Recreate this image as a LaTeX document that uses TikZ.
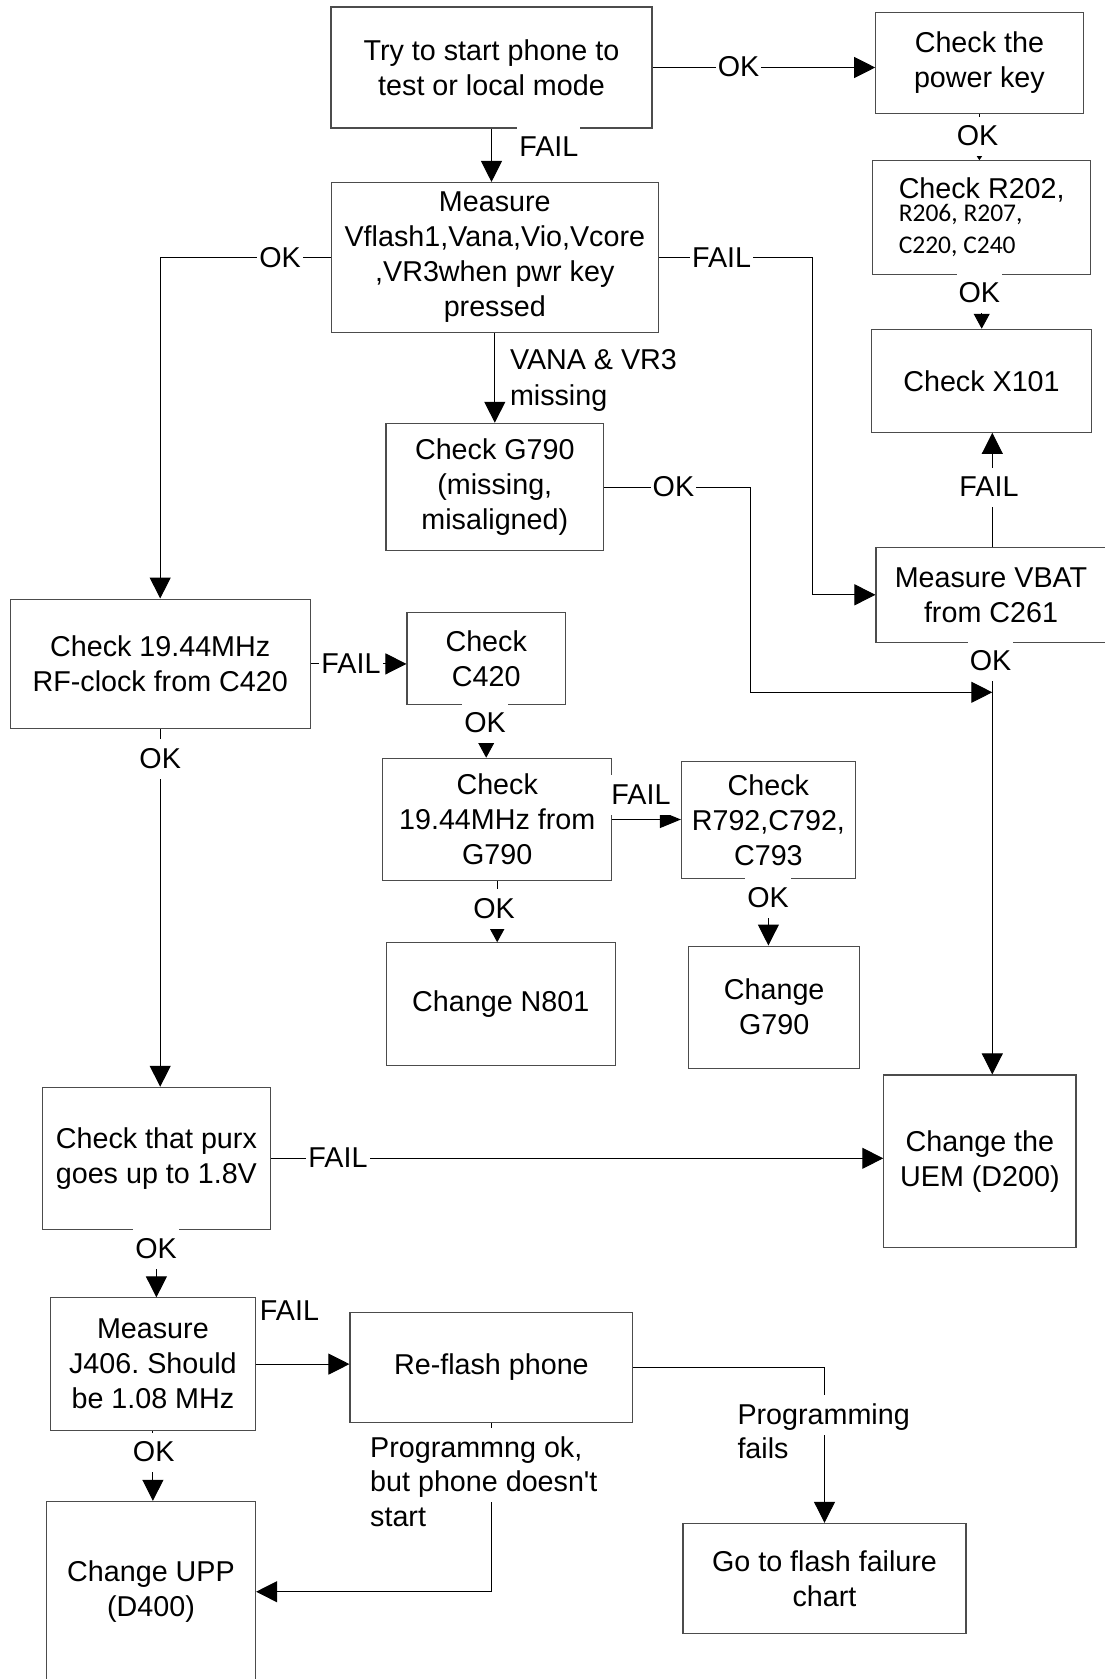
\documentclass[tikz,border=0pt]{standalone}
\usepackage{fontspec}
\newfontfamily\arialf{Liberation Sans}
\newfontfamily\carlitof{Carlito}
\usetikzlibrary{arrows.meta}
\frenchspacing
\newcommand\bigfnt{\arialf\fontsize{28.7}{35}\selectfont\frenchspacing}
\newcommand\smlfnt{\carlitof\fontsize{25.5}{32}\selectfont}
\tikzset{
  box/.style={draw=black!70, line width=1.1pt, inner sep=0pt, align=center, font=\bigfnt},
  conn/.style={draw=black, line width=1pt},
  big/.style={conn, -{Triangle[length=21pt,width=21pt]}},
  midarr/.style={conn, -{Triangle[length=15pt,width=16pt]}},
  smlarr/.style={conn, -{Triangle[length=13pt,width=14pt]}},
  narrarr/.style={conn, -{Triangle[length=21pt,width=17pt]}},
  tinyarr/.style={conn, -{Triangle[length=4pt,width=5pt]}},
  lbl/.style={fill=white, inner xsep=2pt, inner ysep=2pt, text height=27pt, text depth=8.5pt, font=\bigfnt},
  lblt/.style={inner xsep=2pt, inner ysep=2pt, text height=27pt, text depth=8.5pt, font=\bigfnt}
}
\begin{document}
\begin{tikzpicture}[x=1pt,y=-1pt]
\useasboundingbox[fill=white] (0,0) rectangle (1104,1679);
% boxes
\node[box, minimum width=321pt, minimum height=121pt] (A) at (491.5,67.5) {Try to start phone to\\test or local mode};
\node[box, minimum width=207.3pt, minimum height=100.3pt] (B) at (979.4,62.9) {Check the\\power key};
\node[box, align=left, minimum width=218pt, minimum height=113.3pt] (C) at (981.7,217.4) {Check R202,\\[-12pt]{\smlfnt R206, R207,}\\[-3pt]{\smlfnt C220, C240}};
\node[box, minimum width=220.4pt, minimum height=103pt] (D) at (981.5,380.8) {Check X101};
\node[box, minimum width=327.5pt, minimum height=150pt] (E) at (494.8,257.5) {Measure\\Vflash1,Vana,Vio,Vcore\\,VR3when pwr key\\pressed};
\node[box, minimum width=217.6pt, minimum height=127.4pt] (F) at (494.8,487) {Check G790\\(missing,\\misaligned)};
\node[box, minimum width=230pt, minimum height=95pt] (G) at (991,594.8) {Measure VBAT\\from C261};
\node[box, minimum width=299.7pt, minimum height=129.7pt] (H) at (160.2,663.9) {Check 19.44MHz\\RF-clock from C420};
\node[box, minimum width=158.4pt, minimum height=92pt] (I) at (486.2,658.3) {Check\\C420};
\node[box, minimum width=229pt, minimum height=122.4pt] (J) at (497.2,819.5) {Check\\19.44MHz from\\G790};
\node[box, minimum width=173.9pt, minimum height=116.6pt] (K) at (768.4,820) {Check\\R792,C792,\\C793};
\node[box, minimum width=229.5pt, minimum height=122.3pt] (L) at (500.8,1003.9) {Change N801};
\node[box, minimum width=171.1pt, minimum height=122.3pt] (M) at (774.2,1007.2) {Change\\G790};
\node[box, minimum width=228.1pt, minimum height=142pt] (N) at (156.4,1158.3) {Check that purx\\goes up to 1.8V};
\node[box, minimum width=192.2pt, minimum height=172.5pt] (O) at (979.9,1161.2) {Change the\\UEM (D200)};
\node[box, minimum width=204.3pt, minimum height=132.4pt] (P) at (152.9,1364.1) {Measure\\J406. Should\\be 1.08 MHz};
\node[box, minimum width=282.8pt, minimum height=110.3pt] (Q) at (491.4,1367.4) {Re-flash phone};
\node[box, minimum width=283pt, minimum height=110.3pt] (R) at (824.5,1578.5) {Go to flash failure\\chart};
\node[box, minimum width=209.1pt, minimum height=180.7pt] (S) at (151,1591.7) {Change UPP\\(D400)};
% connectors
\coordinate (fj) at (992.3,692.3);
\draw[big] (A.east) -- (A.east -| B.west);
\draw[big] (A.south) -- (A.south |- E.north);
\draw[tinyarr] (B.south) -- (B.south |- C.north);
\draw[midarr] (C.south) -- (C.south |- D.north);
\draw[big] (E.west) -| (H.north);
\draw[big] (E.east) -- ++(153.2,0) |- (G.west);
\draw[big] (E.south) -- (E.south |- F.north);
\draw[big] (F.east) -- ++(146.7,0) |- (fj);
\draw[big] ([xshift=1.3pt]G.north) -- ([xshift=1.3pt]G.north |- D.south);
\draw[big] ([xshift=1.3pt]G.south) -- ([xshift=1.3pt]G.south |- O.north);
\draw[big] (H.east) -- (H.east -| I.west);
\draw[big] (H.south) -- (H.south |- N.north);
\draw[midarr] (I.south) -- (I.south |- J.north);
\draw[narrarr] (J.east) -- (J.east -| K.west);
\draw[smlarr] (J.south) -- (J.south |- L.north);
\draw[big] (K.south) -- (K.south |- M.north);
\draw[big] (N.east) -- (N.east -| O.west);
\draw[big] (N.south) -- (N.south |- P.north);
\draw[big] (P.east) -- (P.east -| Q.west);
\draw[big] (P.south) -- (P.south |- S.north);
\draw[big] (Q.east) -| (R.north);
\draw[big] (Q.south) |- (S.east);
% labels
\node[lbl] (lAB) at (738.5,67) {OK};
\node[lbl] (lAE) at (548.8,147) {FAIL};
\node[lbl] (lBC) at (977.5,136.5) {OK};
\node[lbl] (lCD) at (979.3,293.5) {OK};
\node[lbl] (lEH) at (280,258.5) {OK};
\node[lbl] (lEG) at (721.6,258.5) {FAIL};
\node[lblt, anchor=base west] (lEF1) at (507.8,369.6) {VANA \& VR3};
\node[lblt, anchor=base west] (lEF2) at (507.8,405.3) {missing};
\node[lbl] (lFO) at (673.4,487.5) {OK};
\node[lbl] (lGD) at (989,487.5) {FAIL};
\node[lbl] (lGO) at (990.5,661.5) {OK};
\node[lbl] (lHI) at (351,664) {FAIL};
\node[lbl] (lHN) at (160.2,759) {OK};
\node[lbl] (lIJ) at (485,723) {OK};
\node[lbl] (lJK) at (641,795) {FAIL};
\node[lbl] (lJL) at (494,909) {OK};
\node[lbl] (lKM) at (768,898) {OK};
\node[lbl] (lNO) at (338,1158) {FAIL};
\node[lbl] (lNP) at (156,1249) {OK};
\node[lbl] (lPQ) at (289.5,1311.5) {FAIL};
\node[lbl] (lPS) at (153.7,1452.5) {OK};
\node[lbl, anchor=base west] (lQR1) at (735.3,1424) {Programming};
\node[lblt, anchor=base west] (lQR2) at (735.3,1458) {fails};
\node[lbl, anchor=base west] (lQS1) at (368,1457) {Programmng ok,};
\node[lbl, anchor=base west] (lQS2) at (368,1491.5) {but phone doesn't};
\node[lblt, anchor=base west] (lQS3) at (368,1526) {start};
\end{tikzpicture}
\end{document}
